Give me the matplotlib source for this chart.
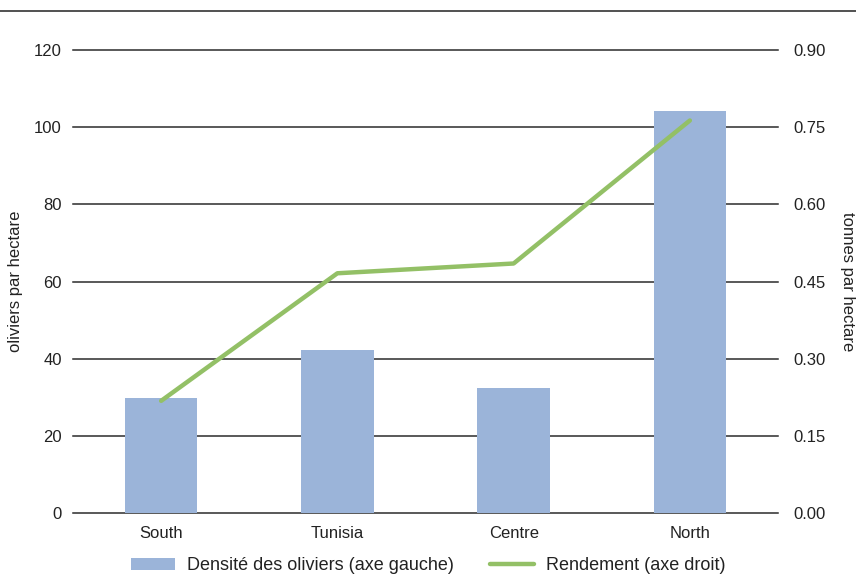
import numpy as np
import matplotlib.pyplot as plt
from matplotlib.lines import Line2D

plt.rcParams['font.family'] = ['Liberation Sans', 'DejaVu Sans']

regions = ['South', 'Tunisia', 'Centre', 'North']
densite = [29.7, 42.2, 32.4, 104.2]       # oliviers par hectare
rendement = [0.218, 0.466, 0.485, 0.763]  # tonnes par hectare

bar_col = '#9bb4d9'
line_col = '#93c066'
grid_col = '#2b2b2b'
txt_col = '#222222'
fs = 12
fs_leg = 13

fig = plt.figure(figsize=(8.56, 5.88), dpi=100)
ax = fig.add_axes([73/856, 1-513/588, 705/856, 463/588])
x = np.arange(len(regions))

ax.bar(x, densite, width=0.41, color=bar_col, zorder=3, label='Densité des oliviers (axe gauche)')
ax.set_xlim(-0.5, len(regions)-0.5)
ax.set_ylim(0, 120)
ax.set_yticks(np.arange(0, 121, 20))
ax.yaxis.grid(True, color=grid_col, lw=1.1, zorder=0)
for gl in ax.get_ygridlines():
    gl.set_clip_on(False)
ax.set_axisbelow(True)
for s in ax.spines.values():
    s.set_visible(False)
ax.tick_params(axis='both', length=0, labelsize=fs, colors=txt_col)
ax.tick_params(axis='y', pad=8)
ax.tick_params(axis='x', pad=9)
ax.set_xticks(x)
ax.set_xticklabels(regions)
ax.set_ylabel('oliviers par hectare', fontsize=fs, color=txt_col, labelpad=8)

ax2 = ax.twinx()
ax2.plot(x, rendement, color=line_col, lw=3.2, solid_capstyle='round', zorder=4,
         label='Rendement (axe droit)')
ax2.set_ylim(0, 0.9)
ax2.set_yticks(np.arange(0, 0.91, 0.15))
ax2.set_yticklabels(['%.2f' % v for v in np.arange(0, 0.91, 0.15)])
for s in ax2.spines.values():
    s.set_visible(False)
ax2.tick_params(axis='y', length=0, labelsize=fs, colors=txt_col, pad=11)
ax2.set_ylabel('tonnes par hectare', fontsize=fs, color=txt_col, rotation=270, labelpad=21)

# top rule
fig.add_artist(Line2D([0, 1], [1-11/588, 1-11/588], color='#333333', lw=1.2))

h1, l1 = ax.get_legend_handles_labels()
h2, l2 = ax2.get_legend_handles_labels()
fig.legend(h1+h2, l1+l2, loc='center', bbox_to_anchor=(0.5, 1-566/588), ncol=2,
           frameon=False, fontsize=fs_leg, handlelength=2.45, handleheight=0.67,
           columnspacing=2.0, handletextpad=0.65, labelcolor=txt_col)

fig.savefig('out.png', dpi=100)
